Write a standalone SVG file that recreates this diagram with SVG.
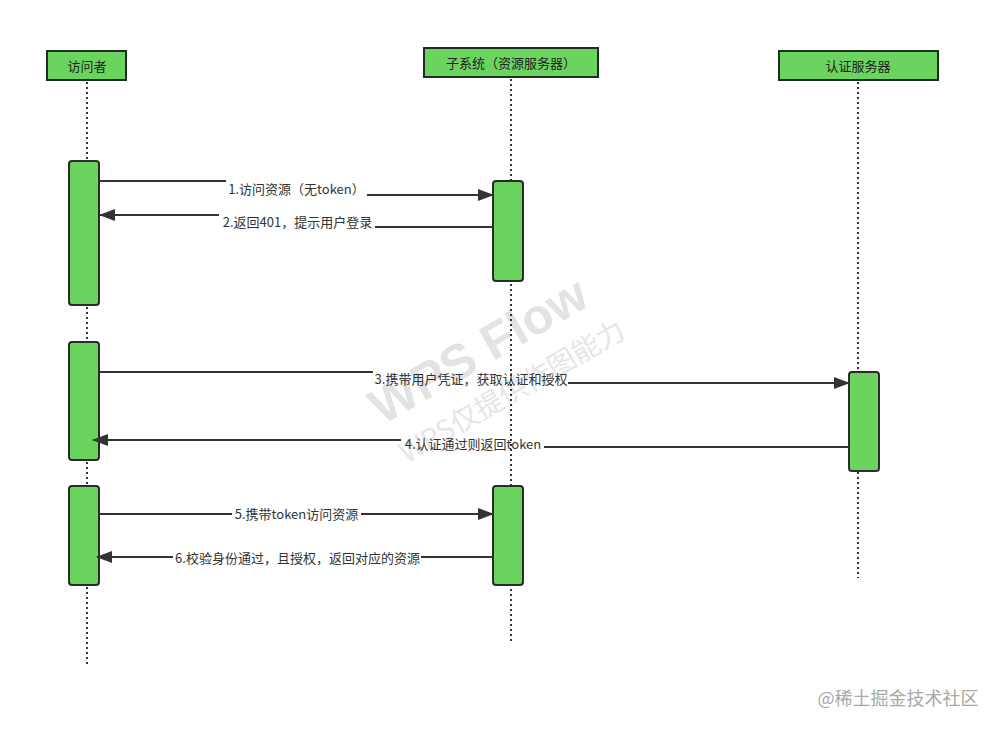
<svg xmlns="http://www.w3.org/2000/svg" width="1000" height="730" viewBox="0 0 1000 730">
<style>
.head{fill:#6bd45f;stroke:#1f2f1f;stroke-width:2}
.act{fill:#6bd45f;stroke:#2b2b2b;stroke-width:2}
.life{stroke:#333;stroke-width:2;stroke-dasharray:2 3;fill:none}
.msg{stroke:#333;stroke-width:2;fill:none}
.ht{font-family:"Noto Sans CJK SC","Noto Sans",sans-serif;font-size:13px;fill:#222;text-anchor:middle}
.lt{font-family:"Noto Sans CJK SC","Noto Sans",sans-serif;font-size:13px;fill:#333;text-anchor:middle}
.wm1{font-family:"Liberation Sans","Noto Sans",sans-serif;font-size:50px;font-weight:bold;fill:#e3e3e3;text-anchor:middle}
.wm2{font-family:"Noto Sans CJK SC","Noto Sans",sans-serif;font-size:28px;fill:#e6e6e6;text-anchor:middle}
.wm3{font-family:"Noto Sans CJK SC",sans-serif;font-size:18px;fill:#a8a8a8;text-anchor:middle}
</style>
<defs>
<marker id="arr" markerUnits="userSpaceOnUse" markerWidth="16" markerHeight="12" refX="15" refY="6" orient="auto">
<path d="M0,0 L16,6 L0,12 z" fill="#333"/>
</marker>
</defs>
<rect width="1000" height="730" fill="#fff"/>
<g id="watermark">
<text class="wm1" transform="translate(487,365) rotate(-30)">WPS Flow</text>
<text class="wm2" transform="translate(517,400) rotate(-30)">WPS仅提供作图能力</text>
</g>
<g id="lifelines">
<line class="life" x1="87" y1="82" x2="87" y2="667"/>
<line class="life" x1="511" y1="79" x2="511" y2="642"/>
<line class="life" x1="858" y1="82" x2="858" y2="578"/>
</g>
<g id="visitor">
<rect class="head" x="47" y="51" width="79" height="29"/>
<text class="ht" x="87" y="71">访问者</text>
</g>
<g id="subsystem">
<rect class="head" x="424" y="48" width="174" height="29"/>
<text class="ht" x="511" y="68">子系统（资源服务器）</text>
</g>
<g id="auth">
<rect class="head" x="779" y="51" width="159" height="29"/>
<text class="ht" x="858" y="71">认证服务器</text>
</g>
<g id="activations">
<rect class="act" x="69" y="161" width="30" height="144" rx="3"/>
<rect class="act" x="69" y="342" width="30" height="118" rx="3"/>
<rect class="act" x="69" y="486" width="30" height="99" rx="3"/>
<rect class="act" x="493" y="181" width="30" height="100" rx="3"/>
<rect class="act" x="493" y="486" width="30" height="99" rx="3"/>
<rect class="act" x="849" y="372" width="30" height="99" rx="3"/>
</g>
<g id="connectors">
<line class="msg" x1="99" y1="181" x2="226" y2="181"/>
<line class="msg" x1="367" y1="195" x2="493" y2="195" marker-end="url(#arr)"/>
<text class="lt" x="296.5" y="194">1.访问资源（无token）</text>

<line class="msg" x1="493" y1="227" x2="375" y2="227"/>
<line class="msg" x1="219" y1="215" x2="100" y2="215" marker-end="url(#arr)"/>
<text class="lt" x="297.5" y="227">2.返回401，提示用户登录</text>

<line class="msg" x1="99" y1="372" x2="373" y2="372"/>
<line class="msg" x1="568" y1="383" x2="849" y2="383" marker-end="url(#arr)"/>
<text class="lt" x="471" y="384">3.携带用户凭证，获取认证和授权</text>

<line class="msg" x1="849" y1="447" x2="544" y2="447"/>
<line class="msg" x1="401" y1="440" x2="93" y2="440" marker-end="url(#arr)"/>
<text class="lt" x="473" y="449">4.认证通过则返回token</text>

<line class="msg" x1="99" y1="514" x2="232" y2="514"/>
<line class="msg" x1="361" y1="514" x2="493" y2="514" marker-end="url(#arr)"/>
<text class="lt" x="296.5" y="519">5.携带token访问资源</text>

<line class="msg" x1="493" y1="557" x2="421" y2="557"/>
<line class="msg" x1="173" y1="557" x2="97" y2="557" marker-end="url(#arr)"/>
<text class="lt" x="297.5" y="563">6.校验身份通过，且授权，返回对应的资源</text>
</g>
<text class="wm3" x="898" y="705">@稀土掘金技术社区</text>
</svg>
